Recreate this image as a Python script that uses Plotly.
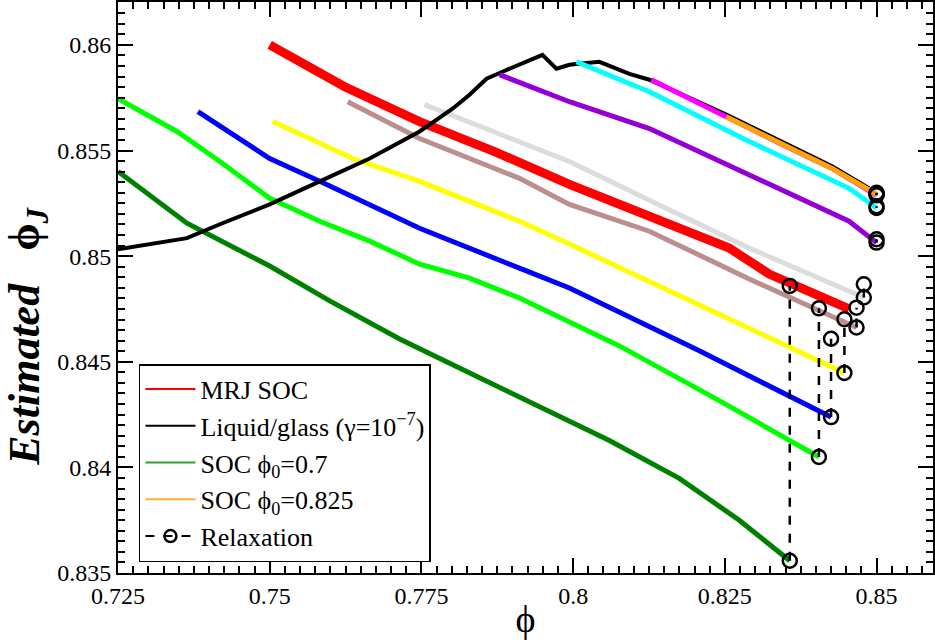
import plotly.graph_objects as go

# ---------------- data ----------------
red_x = [0.75, 0.76236, 0.7747, 0.78705, 0.79939, 0.81256, 0.82572, 0.83231, 0.84547]
red_y = [0.86, 0.85802, 0.85637, 0.85495, 0.8534, 0.85189, 0.85038, 0.84915, 0.8475]

black_x = [0.725, 0.73636, 0.74179, 0.75, 0.75824, 0.76647, 0.7747, 0.78013, 0.78293, 0.78573,
           0.78836, 0.79116, 0.79494, 0.79725, 0.79939, 0.80054, 0.80433, 0.80927, 0.81256,
           0.82523, 0.84267, 0.84876]
black_y = [0.85033, 0.85085, 0.85151, 0.85245, 0.85354, 0.85462, 0.8559, 0.85698, 0.85764, 0.8584,
           0.85873, 0.85906, 0.85953, 0.85887, 0.85906, 0.8591, 0.8592, 0.85863, 0.85835,
           0.8567, 0.85425, 0.85321]

dkgreen_x = [0.725, 0.73636, 0.75, 0.75989, 0.77141, 0.78293, 0.79445, 0.80597, 0.81749, 0.82737, 0.8357]
dkgreen_y = [0.85401, 0.85156, 0.84953, 0.84788, 0.84608, 0.84448, 0.84292, 0.84127, 0.83948, 0.8375, 0.83558]

lime_x = [0.725, 0.73471, 0.74179, 0.75, 0.75824, 0.76647, 0.7747, 0.78293, 0.79116, 0.80762, 0.82408, 0.8405]
lime_y = [0.85745, 0.8559, 0.85448, 0.85274, 0.85165, 0.85071, 0.84962, 0.84896, 0.84802, 0.84575, 0.84316, 0.84049]

blue_x = [0.73817, 0.75, 0.75824, 0.7747, 0.79116, 0.79939, 0.82079, 0.8425]
blue_y = [0.85684, 0.85462, 0.85354, 0.85132, 0.84943, 0.84849, 0.84552, 0.84238]

yellow_x = [0.7505, 0.76368, 0.7747, 0.79116, 0.79939, 0.82079, 0.8447]
yellow_y = [0.85637, 0.85462, 0.85354, 0.85165, 0.85057, 0.84769, 0.84447]

brown_x = [0.76285, 0.7747, 0.79116, 0.79939, 0.81256, 0.82901, 0.8467]
brown_y = [0.85731, 0.85557, 0.85368, 0.85245, 0.85118, 0.84892, 0.84662]

grey_x = [0.77553, 0.78573, 0.79939, 0.81256, 0.82901, 0.84789]
grey_y = [0.85717, 0.85604, 0.85448, 0.85264, 0.85038, 0.84804]

purple_x = [0.78787, 0.79939, 0.81256, 0.82901, 0.84547, 0.85]
purple_y = [0.85859, 0.85731, 0.85604, 0.85387, 0.85165, 0.85064]

cyan_x = [0.80054, 0.81256, 0.82901, 0.84547, 0.85]
cyan_y = [0.8592, 0.85778, 0.85543, 0.85321, 0.85228]

magenta_x = [0.81289, 0.81914, 0.82523, 0.83445, 0.84267, 0.85]
magenta_y = [0.85835, 0.85745, 0.8566, 0.85528, 0.85415, 0.85288]

orange_x = [0.82523, 0.83445, 0.84267, 0.85]
orange_y = [0.8566, 0.85528, 0.85415, 0.85293]

# relaxation: (phi, start, relaxed)
relax_x = [0.8357, 0.8405, 0.8425, 0.8447, 0.8467, 0.8479, 0.85, 0.85, 0.85, 0.85]
relax_y0 = [0.83558, 0.84049, 0.84238, 0.84447, 0.84662, 0.84804, 0.85064, 0.85228, 0.85288, 0.85293]
relax_y1 = [0.84859, 0.84753, 0.84609, 0.84701, 0.84756, 0.84867, 0.8508, 0.85236, 0.85296, 0.853]

x_ticks = [0.725, 0.75, 0.775, 0.8, 0.825, 0.85]
x_ticktext = ["0.725", "0.75", "0.775", "0.8", "0.825", "0.85"]
y_ticks = [0.835, 0.84, 0.845, 0.85, 0.855, 0.86]
y_ticktext = ["0.835", "0.84", "0.845", "0.85", "0.855", "0.86"]

# ---------------- figure ----------------
FONT = "Liberation Serif"
fig = go.Figure()

def curve(x, y, color, width):
    fig.add_trace(go.Scatter(x=x, y=y, mode="lines", line=dict(color=color, width=width),
                             showlegend=False, hoverinfo="skip"))

curve(dkgreen_x, dkgreen_y, "#008000", 5)
curve(lime_x, lime_y, "#00ff00", 5)
curve(blue_x, blue_y, "#0000ff", 5)
curve(yellow_x, yellow_y, "#ffff00", 5)
curve(brown_x, brown_y, "#bc8f8f", 5)
curve(grey_x, grey_y, "#dcdcdc", 5)
curve(red_x, red_y, "#ff0000", 9)
curve(black_x, black_y, "#000000", 4)
curve(purple_x, purple_y, "#9400d3", 5)
curve(cyan_x, cyan_y, "#00ffff", 5)
curve(magenta_x, magenta_y, "#ff00ff", 5)
curve(orange_x, orange_y, "#ffa500", 5)

for xv, a, b in zip(relax_x, relax_y0, relax_y1):
    fig.add_trace(go.Scatter(x=[xv, xv], y=[a, b], mode="lines+markers",
                             line=dict(color="black", width=2.5, dash="dash"),
                             marker=dict(symbol="circle-open", size=14, color="black",
                                         line=dict(width=2.5, color="black")),
                             showlegend=False, hoverinfo="skip"))

# legend entries
def leg(name, color, mode="lines", dash="solid", marker=None):
    kw = dict(x=[None], y=[None], mode=mode, name=name,
              line=dict(color=color, width=2, dash=dash))
    if marker:
        kw["marker"] = marker
    fig.add_trace(go.Scatter(**kw))

leg("MRJ SOC", "#ff0000")
leg("Liquid/glass (γ=10<sup>−7</sup>)", "#000000")
leg("SOC ϕ<sub>0</sub>=0.7", "#2ea02e")
leg("SOC ϕ<sub>0</sub>=0.825", "#ffb030")
leg("Relaxation", "#000000", mode="lines+markers", dash="dash",
    marker=dict(symbol="circle-open", size=12, color="black", line=dict(width=2.5, color="black")))

axis_common = dict(showline=True, linecolor="black", linewidth=2, mirror="allticks",
                   ticks="inside", tickcolor="black", tickwidth=1.5, ticklen=15,
                   showgrid=False, zeroline=False,
                   tickfont=dict(family=FONT, size=24, color="black"))

fig.update_xaxes(range=[0.725, 0.8593], tickvals=x_ticks, ticktext=x_ticktext,
                 minor=dict(ticks="inside", ticklen=7, dtick=0.0025, tick0=0.725,
                            tickcolor="black", tickwidth=1.5, showgrid=False),
                 title=dict(text="ϕ", font=dict(family=FONT, size=38, color="black"), standoff=2),
                 **axis_common)
fig.update_yaxes(range=[0.835, 0.86203], tickvals=y_ticks, ticktext=y_ticktext,
                 minor=dict(ticks="inside", ticklen=7, dtick=0.0005, tick0=0.835,
                            tickcolor="black", tickwidth=1.5, showgrid=False),
                 **axis_common)

# y-axis title placed like the reference (slightly below centre)
fig.add_annotation(text="<b><i>Estimated</i>   ϕ<sub><i>J</i></sub></b>",
                   xref="paper", yref="paper", x=-0.112, y=0.415,
                   xanchor="center", yanchor="middle", textangle=-90, showarrow=False,
                   font=dict(family=FONT, size=44, color="black"))

fig.update_layout(
    width=935, height=640,
    margin=dict(l=118, r=1, t=0, b=67),
    plot_bgcolor="white", paper_bgcolor="white",
    showlegend=True,
    legend=dict(x=0.0257, y=0.366, xanchor="left", yanchor="top",
                bgcolor="white", bordercolor="black", borderwidth=1.5,
                font=dict(family=FONT, size=26, color="black"),
                tracegroupgap=0, itemwidth=50),
)

fig.write_html("out.html")
